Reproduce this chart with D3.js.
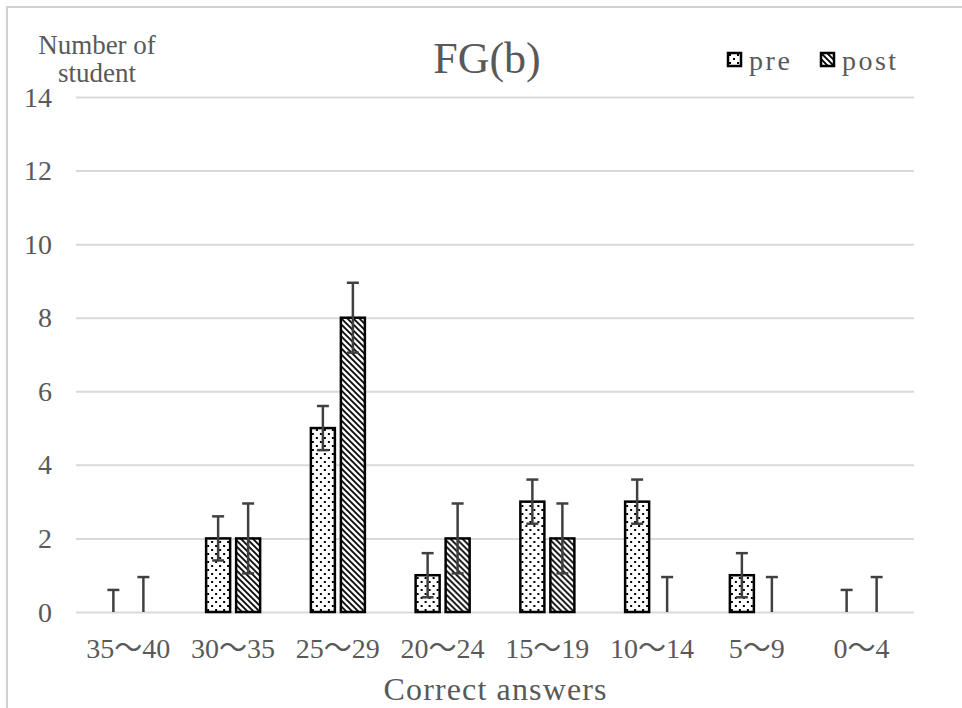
<!DOCTYPE html>
<html>
<head>
<meta charset="utf-8">
<script src="https://cdn.jsdelivr.net/npm/d3@7"></script>
<style>
  body { margin: 0; background: #fff; }
  svg text { font-family: "Liberation Serif", "Noto Sans CJK JP", serif; fill: #595959; }
</style>
</head>
<body>
<svg width="962" height="708"></svg>
<script>
"use strict";

// data
const categories = ["35～40", "30～35", "25～29", "20～24", "15～19", "10～14", "5～9", "0～4"];
const series = ["pre", "post"];
const preValues = [0, 2, 5, 1, 3, 3, 1, 0];
const postValues = [0, 2, 8, 2, 2, 0, 0, 0];
const preErrors = [0.6, 0.6, 0.6, 0.6, 0.6, 0.6, 0.6, 0.6];
const postErrors = [0.95, 0.95, 0.95, 0.95, 0.95, 0.95, 0.95, 0.95];
const yTicks = [0, 2, 4, 6, 8, 10, 12, 14];

const rows = categories.map((c, i) => ({
    cat: c,
    pre: preValues[i], post: postValues[i],
    preErr: preErrors[i], postErr: postErrors[i]
}));

const svg = d3.select("body svg");
const plot = { left: 76, right: 914, top: 97, bottom: 612 },
      groupWidth = 54,
      capWidth = 12,
      gridColor = "#d9d9d9";

// outer border of the chart area
svg.append("rect")
    .attr("x", 7).attr("y", 7)
    .attr("width", 970).attr("height", 720)
    .attr("fill", "none")
    .attr("stroke", "#d0d0d0")
    .attr("stroke-width", 2);

// patterns
const defs = svg.append("defs");
let dots = defs.append("pattern")
    .attr("id", "dots")
    .attr("patternUnits", "userSpaceOnUse")
    .attr("width", 8).attr("height", 8);
dots.append("rect").attr("width", 8).attr("height", 8).attr("fill", "#fff");
dots.append("rect").attr("x", 1).attr("y", 1).attr("width", 2).attr("height", 2).attr("fill", "#000");
dots.append("rect").attr("x", 5).attr("y", 5).attr("width", 2).attr("height", 2).attr("fill", "#000");

let hatch = defs.append("pattern")
    .attr("id", "hatch")
    .attr("patternUnits", "userSpaceOnUse")
    .attr("width", 6).attr("height", 6);
hatch.append("rect").attr("width", 6).attr("height", 6).attr("fill", "#fff");
hatch.append("path")
    .attr("d", "M-1,-1L7,7M-4,2L2,8M4,-2L8,2")
    .attr("stroke", "#000")
    .attr("stroke-width", 1.8);

const fillFor = { pre: "url(#dots)", post: "url(#hatch)" };

// scales
let scaleX = d3.scaleBand()
    .domain(categories)
    .range([plot.left, plot.right]);

let scaleSeries = d3.scaleBand()
    .domain(series)
    .range([0, groupWidth])
    .paddingInner(0.2);

let scaleY = d3.scaleLinear()
    .domain([0, 14])
    .range([plot.bottom, plot.top]);

// grid lines
svg.append("g")
    .attr("class", "grid")
    .attr("transform", `translate(${plot.left}, 0)`)
    .call(d3.axisLeft(scaleY)
        .tickValues(yTicks)
        .tickSize(-(plot.right - plot.left))
        .tickFormat(""))
    .call(g => g.select(".domain").remove())
    .call(g => g.selectAll("line").attr("stroke", gridColor).attr("stroke-width", 2));

// y tick labels
svg.append("g")
    .attr("class", "y_axis")
    .selectAll("text")
    .data(yTicks)
    .enter()
    .append("text")
    .attr("x", 52)
    .attr("y", d => scaleY(d) + 9.5)
    .attr("text-anchor", "end")
    .attr("font-size", 28)
    .text(d => d);

// x tick labels
svg.append("g")
    .attr("class", "x_axis")
    .selectAll("text")
    .data(categories)
    .enter()
    .append("text")
    .attr("x", d => scaleX(d) + scaleX.bandwidth() / 2)
    .attr("y", 658)
    .attr("text-anchor", "middle")
    .attr("font-size", 28)
    .text(d => d);

// bars
const groupOffset = (scaleX.bandwidth() - groupWidth) / 2;
let groups = svg.append("g")
    .attr("class", "bars")
    .selectAll("g")
    .data(rows)
    .enter()
    .append("g")
    .attr("transform", d => `translate(${scaleX(d.cat) + groupOffset}, 0)`);

groups.selectAll("rect")
    .data(d => series.map(s => ({ s: s, v: d[s] })).filter(e => e.v > 0))
    .enter()
    .append("rect")
    .attr("x", d => scaleSeries(d.s))
    .attr("y", d => scaleY(d.v))
    .attr("width", scaleSeries.bandwidth())
    .attr("height", d => scaleY(0) - scaleY(d.v))
    .attr("fill", d => fillFor[d.s])
    .attr("stroke", "#000")
    .attr("stroke-width", 2.5);

// error bars
groups.each(function(d) {
    let g = d3.select(this);
    series.forEach(s => {
        let v = d[s], e = d[s + "Err"];
        let cx = scaleSeries(s) + scaleSeries.bandwidth() / 2;
        let lo = Math.max(0, v - e), hi = v + e;
        let eg = g.append("g").attr("class", "err").attr("stroke", "#404040").attr("stroke-width", 2.5);
        eg.append("line")
            .attr("x1", cx).attr("x2", cx)
            .attr("y1", scaleY(lo)).attr("y2", scaleY(hi));
        eg.append("line")
            .attr("x1", cx - capWidth / 2).attr("x2", cx + capWidth / 2)
            .attr("y1", scaleY(hi)).attr("y2", scaleY(hi));
        if (v - e > 0) {
            eg.append("line")
                .attr("x1", cx - capWidth / 2).attr("x2", cx + capWidth / 2)
                .attr("y1", scaleY(lo)).attr("y2", scaleY(lo));
        }
    });
});

// title
svg.append("text")
    .attr("x", 487)
    .attr("y", 73)
    .attr("text-anchor", "middle")
    .attr("font-size", 44)
    .text("FG(b)");

// y axis title
svg.append("text")
    .attr("x", 97).attr("y", 54)
    .attr("text-anchor", "middle")
    .attr("font-size", 27)
    .text("Number of");
svg.append("text")
    .attr("x", 97).attr("y", 82)
    .attr("text-anchor", "middle")
    .attr("font-size", 27)
    .text("student");

// x axis title
svg.append("text")
    .attr("x", 495)
    .attr("y", 700)
    .attr("text-anchor", "middle")
    .attr("font-size", 32)
    .attr("textLength", 223)
    .attr("lengthAdjust", "spacing")
    .text("Correct answers");

// legend
const legendX = [728, 821],
      legendTextWidth = [41, 54];
let legend = svg.append("g")
    .attr("class", "legend")
    .selectAll("g")
    .data(series)
    .enter()
    .append("g")
    .attr("transform", (d, i) => `translate(${legendX[i]}, 53)`);
legend.append("rect")
    .attr("width", 13).attr("height", 13)
    .attr("fill", d => fillFor[d])
    .attr("stroke", "#000")
    .attr("stroke-width", 2.5);
legend.append("text")
    .attr("x", 21)
    .attr("y", 17)
    .attr("font-size", 28)
    .attr("textLength", (d, i) => legendTextWidth[i])
    .attr("lengthAdjust", "spacing")
    .text(d => d);
</script>
</body>
</html>
